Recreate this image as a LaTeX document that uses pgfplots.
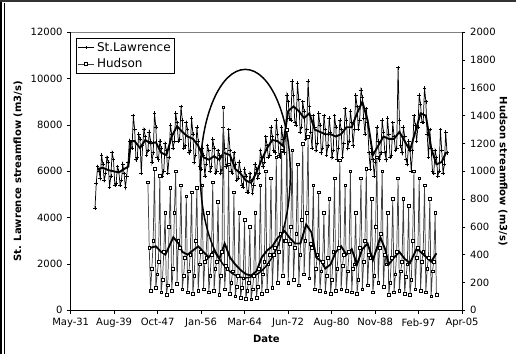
\documentclass[border=0pt]{standalone}
\usepackage{fontspec}
\setmainfont{DejaVu Sans}
\usepackage{pgfplots}
\pgfplotsset{compat=1.18}
\newcommand\tickfont{\fontsize{7.5}{9}\selectfont}
\newcommand\labfont{\bfseries\fontsize{7.5}{9}\selectfont}
\pgfplotsset{
  common/.style={
    at={(53pt,32.8pt)}, anchor=south west, scale only axis,
    width=293.5pt, height=208.5pt,
    xmin=1931.41, xmax=2005.33,
    axis line style={-, black, line width=0.6pt},
    tick align=outside, major tick length=2.6pt, minor tick length=2.6pt,
    tick style={black, line width=0.5pt},
    tick label style={font=\tickfont},
    scaled y ticks=false,
    /pgf/number format/set thousands separator={},
    /pgf/number format/assume math mode=true,
  },
  stl/.style={black, line width=0.55pt, mark=+, mark size=1.4pt, mark options={black, line width=0.45pt}},
  hud/.style={black!75, line width=0.55pt, mark=square*, mark size=1pt, mark options={draw=black, fill=white, line width=0.4pt}},
  legend image code/.code={\draw[#1, mark repeat=2, mark phase=2] plot coordinates {(0pt,0pt) (6pt,0pt) (12pt,0pt)};},
}
\begin{document}
\begin{tikzpicture}
\useasboundingbox (0,0) rectangle (387pt,265.5pt);
\begin{axis}[common,
  ymin=0, ymax=12000, ytick={0,2000,...,12000},
  axis y line*=left, axis x line*=bottom,
  xtick={1931.41,1939.62,1947.84,1956.05,1964.26,1972.48,1980.69,1988.91,1997.12,2005.33},
  xticklabels={May-31,Aug-39,Oct-47,Jan-56,Mar-64,Jun-72,Aug-80,Nov-88,Feb-97,Apr-05},
  minor x tick num=4,
  xlabel={Date}, xlabel style={at={(axis description cs:0.5,-0.103)}, anchor=center, font=\labfont},
  ylabel={St. Lawrence streamflow (m3/s)}, ylabel style={at={(axis description cs:-0.1347,0.5)}, anchor=center, font=\labfont},
]
\draw[black!50, line width=0.6pt] (rel axis cs:0,1) -- (rel axis cs:1,1);
\addplot[stl] coordinates {
(1936.00,4400)(1936.25,5500)(1936.50,6200)(1936.75,6000)
(1937.00,5700)(1937.25,6700)(1937.50,6300)(1937.75,5600)
(1938.00,5900)(1938.25,6600)(1938.50,6400)(1938.75,5300)
(1939.00,5800)(1939.25,6800)(1939.50,6500)(1939.75,5400)
(1940.00,5500)(1940.25,6200)(1940.50,6000)(1940.75,5400)
(1941.00,5600)(1941.25,6300)(1941.50,5900)(1941.75,5300)
(1942.00,5800)(1942.25,6400)(1942.50,7300)(1942.75,7000)
(1943.00,7000)(1943.25,8400)(1943.50,7800)(1943.75,6500)
(1944.00,6600)(1944.25,7600)(1944.50,7400)(1944.75,5900)
(1945.00,7100)(1945.25,7800)(1945.50,7500)(1945.75,6700)
(1946.00,6900)(1946.25,7700)(1946.50,7300)(1946.75,6400)
(1947.00,6800)(1947.25,8500)(1947.50,7900)(1947.75,6600)
(1948.00,6500)(1948.25,7300)(1948.50,7000)(1948.75,5800)
(1949.00,6000)(1949.25,7200)(1949.50,6900)(1949.75,5900)
(1950.00,6600)(1950.25,8000)(1950.50,7600)(1950.75,7000)
(1951.00,7300)(1951.25,8500)(1951.50,8100)(1951.75,7300)
(1952.00,7400)(1952.25,8800)(1952.50,8200)(1952.75,7000)
(1953.00,7100)(1953.25,8100)(1953.50,7800)(1953.75,6800)
(1954.00,6900)(1954.25,8300)(1954.50,7600)(1954.75,6400)
(1955.00,6700)(1955.25,7900)(1955.50,7300)(1955.75,6200)
(1956.00,6100)(1956.25,7000)(1956.50,6700)(1956.75,5800)
(1957.00,6300)(1957.25,7100)(1957.50,6900)(1957.75,6000)
(1958.00,6200)(1958.25,7400)(1958.50,7000)(1958.75,5900)
(1959.00,6000)(1959.25,6900)(1959.50,6700)(1959.75,5900)
(1960.00,6100)(1960.25,7900)(1960.50,7000)(1960.75,6200)
(1961.00,6300)(1961.25,7800)(1961.50,6900)(1961.75,6000)
(1962.00,5900)(1962.25,6800)(1962.50,6300)(1962.75,5600)
(1963.00,5700)(1963.25,6400)(1963.50,6000)(1963.75,5400)
(1964.00,5300)(1964.25,6100)(1964.50,5800)(1964.75,5100)
(1965.00,5100)(1965.25,5900)(1965.50,5600)(1965.75,5050)
(1966.00,5400)(1966.25,6300)(1966.50,6100)(1966.75,5700)
(1967.00,5900)(1967.25,6900)(1967.50,6600)(1967.75,6200)
(1968.00,6400)(1968.25,7500)(1968.50,7100)(1968.75,6600)
(1969.00,6700)(1969.25,7900)(1969.50,7500)(1969.75,6900)
(1970.00,6800)(1970.25,8200)(1970.50,7600)(1970.75,6700)
(1971.00,6600)(1971.25,7900)(1971.50,7400)(1971.75,6800)
(1972.00,7500)(1972.25,9300)(1972.50,9000)(1972.75,8300)
(1973.00,8200)(1973.25,9900)(1973.50,9300)(1973.75,8100)
(1974.00,8000)(1974.25,9800)(1974.50,9100)(1974.75,7700)
(1975.00,7900)(1975.25,9000)(1975.50,8600)(1975.75,7400)
(1976.00,7800)(1976.25,9900)(1976.50,8800)(1976.75,7700)
(1977.00,7000)(1977.25,8400)(1977.50,7900)(1977.75,6900)
(1978.00,7200)(1978.25,8500)(1978.50,8000)(1978.75,6800)
(1979.00,7000)(1979.25,8400)(1979.50,7800)(1979.75,6700)
(1980.00,7100)(1980.25,8300)(1980.50,7700)(1980.75,6600)
(1981.00,6900)(1981.25,8400)(1981.50,7900)(1981.75,6500)
(1982.00,7000)(1982.25,8200)(1982.50,7800)(1982.75,6600)
(1983.00,7200)(1983.25,8700)(1983.50,8200)(1983.75,7000)
(1984.00,7300)(1984.25,8600)(1984.50,8100)(1984.75,7100)
(1985.00,7800)(1985.25,9300)(1985.50,8800)(1985.75,7800)
(1986.00,8200)(1986.25,9500)(1986.50,9200)(1986.75,8300)
(1987.00,7600)(1987.25,8700)(1987.50,8100)(1987.75,6800)
(1988.00,6100)(1988.25,7000)(1988.50,6500)(1988.75,5800)
(1989.00,6400)(1989.25,7900)(1989.50,7300)(1989.75,6500)
(1990.00,6800)(1990.25,8200)(1990.50,7700)(1990.75,6800)
(1991.00,6500)(1991.25,8300)(1991.50,7600)(1991.75,6600)
(1992.00,6700)(1992.25,8100)(1992.50,7500)(1992.75,6900)
(1993.00,7000)(1993.25,10470)(1993.50,8200)(1993.75,7100)
(1994.00,6800)(1994.25,7900)(1994.50,7500)(1994.75,6500)
(1995.00,6300)(1995.25,7300)(1995.50,6900)(1995.75,6000)
(1996.00,6900)(1996.25,8400)(1996.50,8000)(1996.75,7300)
(1997.00,7900)(1997.25,9300)(1997.50,8900)(1997.75,8100)
(1998.00,8100)(1998.25,9600)(1998.50,9000)(1998.75,7600)
(1999.00,6600)(1999.25,7800)(1999.50,7000)(1999.75,6000)
(2000.00,5900)(2000.25,6900)(2000.50,6600)(2000.75,5800)
(2001.00,6000)(2001.25,7800)(2001.50,6900)(2001.75,5900)
(2002.00,6300)(2002.25,7700)(2002.50,6800)
};
\addplot[black, line width=1.4pt, no markers] coordinates {
(1936.5,6100)(1937.5,6150)(1938.5,6050)(1939.5,6000)(1940.5,5950)(1941.5,6100)
(1942.3,6200)(1942.8,7300)(1943.5,7300)(1944.5,7000)(1945.5,7350)(1946.5,7200)
(1947.5,7250)(1948.5,6800)(1949.5,6700)(1950.5,7500)(1951.5,7950)(1952.5,7700)
(1953.5,7500)(1954.5,7400)(1955.5,7100)(1956.5,6600)(1957.5,6500)(1958.5,6650)
(1959.5,6500)(1960.3,6800)(1961.5,6700)(1962.5,6100)(1963.5,5900)(1964.5,5600)
(1965.5,5500)(1966.5,5950)(1967.5,6500)(1968.5,7000)(1969.5,7350)(1970.5,7300)
(1971.5,7100)(1972.5,8600)(1973.5,8800)(1974.5,8600)(1975.5,8300)(1976.5,8500)
(1977.5,7800)(1978.5,7700)(1979.5,7600)(1980.5,7600)(1981.5,7500)(1982.5,7600)
(1983.5,7900)(1984.5,7900)(1985.5,8500)(1986.5,9000)(1987.5,8200)(1988.5,6700)
(1989.5,7100)(1990.5,7500)(1991.5,7400)(1992.5,7400)(1993.5,7700)(1994.5,7300)
(1995.5,6900)(1996.5,7700)(1997.5,8500)(1998.5,8400)(1999.5,7000)(2000.5,6300)
(2001.5,6400)(2002.3,6800)
};
\end{axis}
\begin{axis}[common,
  ymin=0, ymax=2000, ytick={0,200,...,2000},
  axis y line*=right, axis x line=none,
  ylabel={Hudson streamflow (m3/s)}, ylabel style={at={(axis description cs:1.105,0.5)}, anchor=center, rotate=180, font=\labfont},
  legend style={at={(0.0135,0.98)}, anchor=north west, draw=black, line width=0.5pt, font=\fontsize{9}{10.5}\selectfont, inner sep=1pt, row sep=0pt, cells={anchor=west}},
]
\addlegendimage{stl}
\addlegendentry{St.Lawrence}
\addplot[hud] coordinates {
(1946.00,920)(1946.25,450)(1946.50,140)(1946.75,300)
(1947.00,500)(1947.25,1020)(1947.50,160)(1947.75,260)
(1948.00,350)(1948.25,970)(1948.50,130)(1948.75,220)
(1949.00,420)(1949.25,700)(1949.50,110)(1949.75,180)
(1950.00,600)(1950.25,880)(1950.50,140)(1950.75,300)
(1951.00,700)(1951.25,1000)(1951.50,190)(1951.75,500)
(1952.00,450)(1952.25,900)(1952.50,150)(1952.75,250)
(1953.00,380)(1953.25,820)(1953.50,130)(1953.75,280)
(1954.00,400)(1954.25,850)(1954.50,120)(1954.75,250)
(1955.00,500)(1955.25,880)(1955.50,140)(1955.75,330)
(1956.00,420)(1956.25,900)(1956.50,150)(1956.75,350)
(1957.00,380)(1957.25,700)(1957.50,130)(1957.75,250)
(1958.00,400)(1958.25,920)(1958.50,140)(1958.75,300)
(1959.00,350)(1959.25,780)(1959.50,110)(1959.75,250)
(1960.00,420)(1960.25,1460)(1960.50,150)(1960.75,320)
(1961.00,300)(1961.25,1050)(1961.50,120)(1961.75,200)
(1962.00,280)(1962.25,850)(1962.50,100)(1962.75,170)
(1963.00,250)(1963.25,700)(1963.50,90)(1963.75,160)
(1964.00,230)(1964.25,650)(1964.50,85)(1964.75,140)
(1965.00,200)(1965.25,600)(1965.50,80)(1965.75,150)
(1966.00,250)(1966.25,700)(1966.50,90)(1966.75,170)
(1967.00,300)(1967.25,900)(1967.50,120)(1967.75,260)
(1968.00,350)(1968.25,1000)(1968.50,140)(1968.75,330)
(1969.00,400)(1969.25,950)(1969.50,160)(1969.75,400)
(1970.00,450)(1970.25,1100)(1970.50,200)(1970.75,420)
(1971.00,550)(1971.25,1150)(1971.50,250)(1971.75,500)
(1972.00,500)(1972.25,1300)(1972.50,200)(1972.75,480)
(1973.00,600)(1973.25,1150)(1973.50,220)(1973.75,450)
(1974.00,550)(1974.25,1050)(1974.50,180)(1974.75,400)
(1975.00,650)(1975.25,1200)(1975.50,260)(1975.75,500)
(1976.00,700)(1976.25,1250)(1976.50,230)(1976.75,480)
(1977.00,450)(1977.25,900)(1977.50,150)(1977.75,300)
(1978.00,400)(1978.25,850)(1978.50,140)(1978.75,280)
(1979.00,350)(1979.25,700)(1979.50,130)(1979.75,250)
(1980.00,380)(1980.25,800)(1980.50,120)(1980.75,220)
(1981.00,420)(1981.25,950)(1981.50,140)(1981.75,300)
(1982.00,450)(1982.25,1080)(1982.50,150)(1982.75,320)
(1983.00,400)(1983.25,900)(1983.50,140)(1983.75,280)
(1984.00,420)(1984.25,1000)(1984.50,130)(1984.75,300)
(1985.00,330)(1985.25,700)(1985.50,120)(1985.75,220)
(1986.00,450)(1986.25,950)(1986.50,150)(1986.75,350)
(1987.00,500)(1987.25,1020)(1987.50,180)(1987.75,400)
(1988.00,380)(1988.25,800)(1988.50,130)(1988.75,250)
(1989.00,600)(1989.25,1100)(1989.50,200)(1989.75,450)
(1990.00,550)(1990.25,1000)(1990.50,170)(1990.75,400)
(1991.00,330)(1991.25,700)(1991.50,110)(1991.75,200)
(1992.00,380)(1992.25,800)(1992.50,130)(1992.75,260)
(1993.00,420)(1993.25,950)(1993.50,140)(1993.75,280)
(1994.00,350)(1994.25,800)(1994.50,120)(1994.75,240)
(1995.00,330)(1995.25,750)(1995.50,110)(1995.75,220)
(1996.00,500)(1996.25,1000)(1996.50,150)(1996.75,380)
(1997.00,450)(1997.25,950)(1997.50,140)(1997.75,350)
(1998.00,420)(1998.25,900)(1998.50,130)(1998.75,300)
(1999.00,380)(1999.25,800)(1999.50,100)(1999.75,280)
(2000.00,350)(2000.25,700)(2000.50,110)
};
\addlegendentry{Hudson}
\addplot[black, line width=1.4pt, no markers, forget plot] coordinates {
(1946.5,450)(1947.5,460)(1948.5,420)(1949.3,400)(1950.8,525)(1951.8,480)
(1952.5,420)(1953.5,400)(1954.5,430)(1955.5,460)(1956.5,420)(1957.5,380)
(1958.5,430)(1959.5,370)(1960.5,480)(1961.5,380)(1962.5,330)(1963.5,290)
(1964.5,260)(1965.5,250)(1966.5,280)(1967.5,380)(1968.5,430)(1969.5,460)
(1970.5,520)(1971.8,570)(1972.8,520)(1973.8,480)(1974.8,480)(1975.9,617)
(1976.9,560)(1977.8,380)(1978.8,350)(1979.5,300)(1980.5,330)(1981.5,420)
(1982.5,460)(1983.5,400)(1984.5,440)(1985.5,330)(1986.5,440)(1987.5,480)
(1988.5,360)(1989.9,525)(1990.8,440)(1991.5,330)(1992.5,380)(1993.5,420)
(1994.5,370)(1995.5,340)(1996.8,445)(1997.5,420)(1999.5,350)(2000.5,410)
};
\draw[black, line width=1.1pt] (axis cs:1964.4,983) ellipse [x radius=8.5, y radius=750];
\end{axis}
\draw[black, line width=1.5pt] (0.75pt,0) -- (0.75pt,265.5pt);
\draw[black, line width=0.6pt] (3.3pt,0) -- (3.3pt,263.5pt);
\draw[black!80, line width=1.3pt] (0,264.6pt) -- (387pt,264.6pt);
\end{tikzpicture}
\end{document}
